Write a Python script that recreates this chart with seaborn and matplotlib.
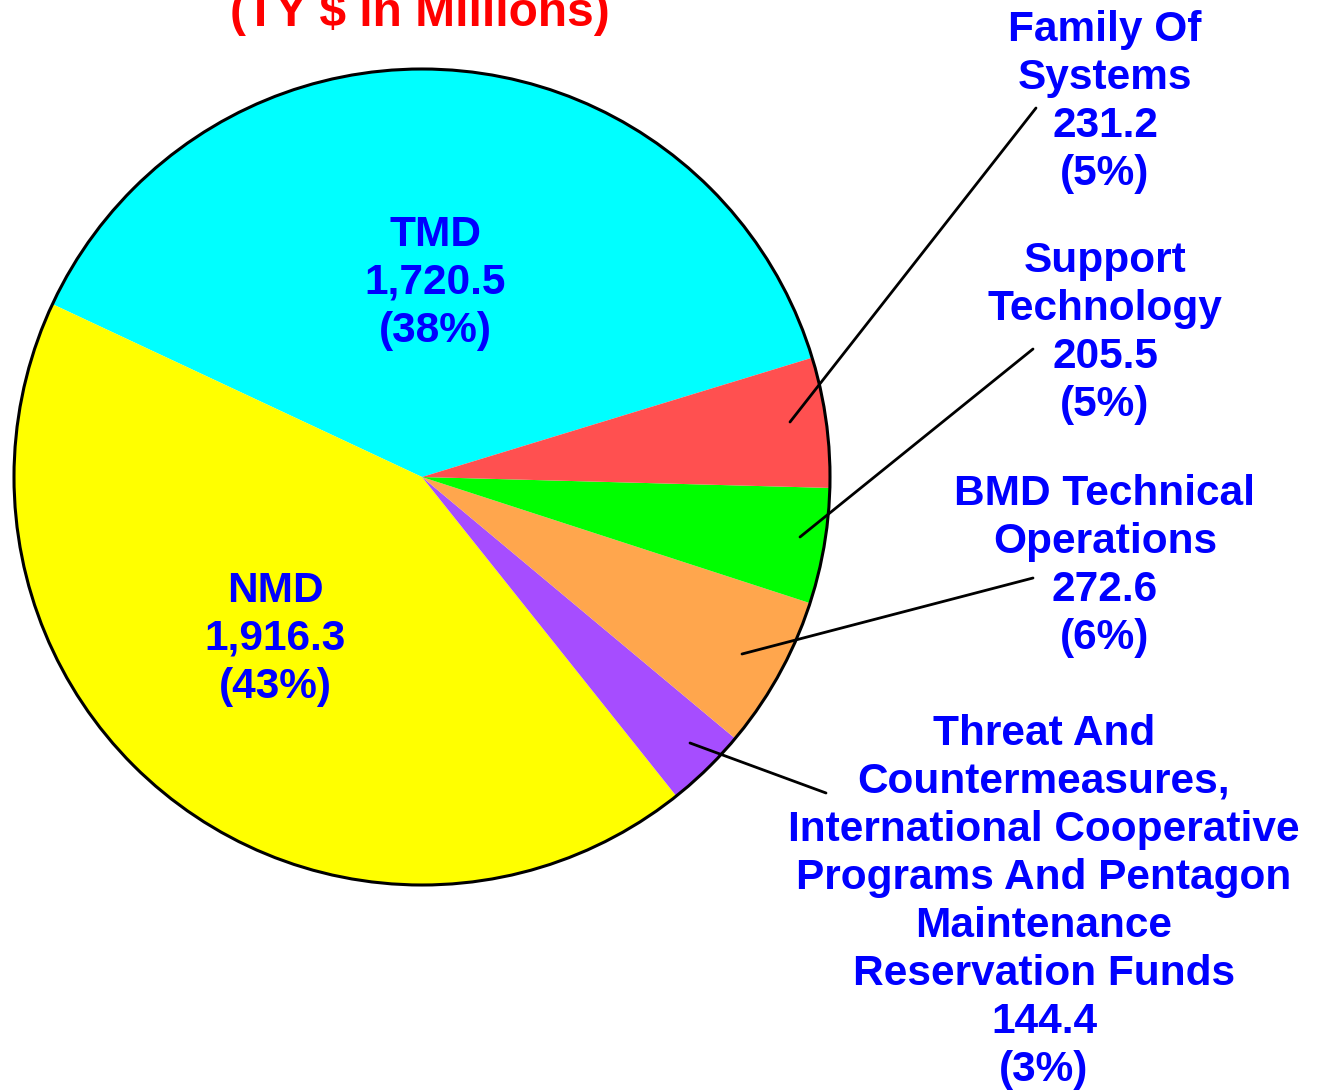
import matplotlib
matplotlib.use('Agg')
import matplotlib.pyplot as plt
import seaborn as sns

# Budget breakdown (TY $ in Millions)
names = ['TMD', 'NMD',
         'Threat And\nCountermeasures,\nInternational Cooperative\nPrograms And Pentagon\nMaintenance\nReservation Funds',
         'BMD Technical\nOperations', 'Support\nTechnology', 'Family Of\nSystems']
values = [1720.5, 1916.3, 144.4, 272.6, 205.5, 231.2]
colors = ['#00FFFF', '#FFFF00', '#A64DFF', '#FFA64D', '#00FF00', '#FF5050']

sns.set_theme(style='white')
plt.rcParams['font.family'] = ['Liberation Sans', 'DejaVu Sans']

W, H = 1317, 1090
fig = plt.figure(figsize=(W / 100, H / 100), dpi=100)
ax = fig.add_axes([0, 0, 1, 1])

cx, cy, r = 422, H - 477, 408
wedges, _ = ax.pie(values, colors=colors, startangle=17, counterclock=True,
                   center=(cx, cy), radius=r, frame=True,
                   wedgeprops=dict(linewidth=0))
ax.set_xlim(0, W)
ax.set_ylim(0, H)
ax.set_aspect('equal')
ax.axis('off')
ax.add_patch(plt.Circle((cx, cy), r, fill=False, edgecolor='black', lw=2.2))

total = sum(values)
labels = [f'{n}\n{v:,.1f}\n({round(v / total * 100):.0f}%)' for n, v in zip(names, values)]

blue = '#0000FF'
fs = 30.5
txt = dict(color=blue, fontsize=fs, fontweight='bold', ha='center', va='center', linespacing=1.26)

# inside labels
ax.text(435, H - 283, labels[0], **txt)
ax.text(275, H - 639, labels[1], **txt)

# outside labels with leader lines: (text center, line start, line end)
outside = {
    5: ((1105, 102), (790, 422), (1036, 108)),
    4: ((1105, 333), (800, 537), (1033, 349)),
    3: ((1105, 566), (742, 654), (1033, 578)),
    2: ((1044, 902), (690, 743), (826, 793)),
}
for i, (tp, p0, p1) in outside.items():
    ax.text(tp[0], H - tp[1], labels[i], **txt)
    ax.plot([p0[0], p1[0]], [H - p0[1], H - p1[1]], color='black', lw=2)

# title is partly cut off at the top edge, as in the original
ax.text(420, H - 26, '(TY $ in Millions)', color='#FF0000', fontsize=34.5,
        fontweight='bold', ha='center', va='baseline')

fig.savefig('out.png', dpi=100)
